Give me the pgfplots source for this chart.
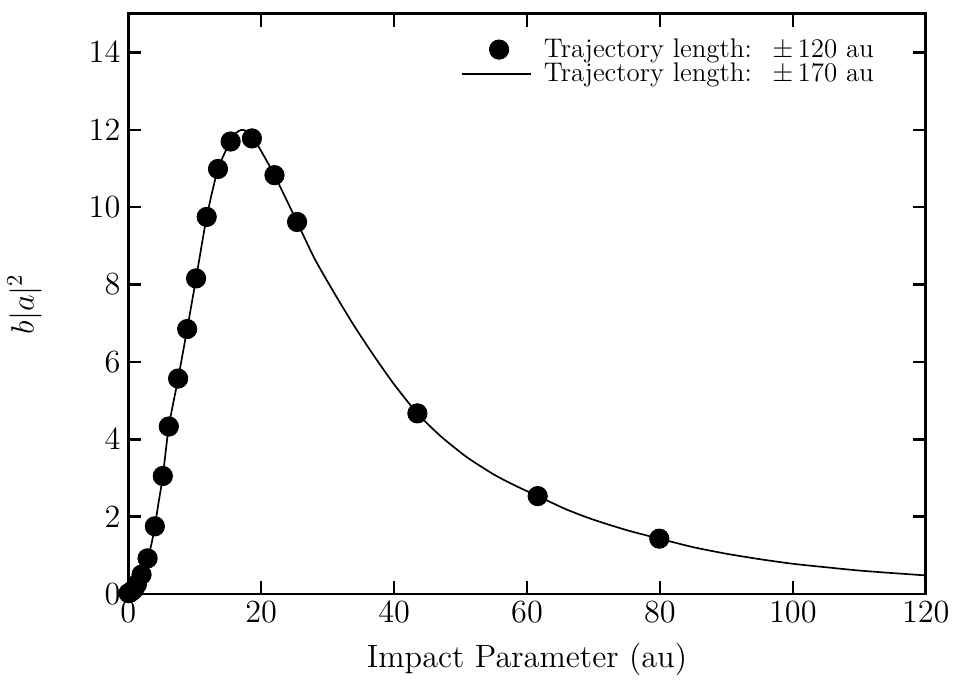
\documentclass[border=0pt]{standalone}
\usepackage{pgfplots}
\pgfplotsset{compat=1.18}
\pgfplotsset{
  dotlegend/.style={legend image code/.code={\draw[##1] plot coordinates {(0.58cm,0cm)};}},
  linelegend/.style={legend image code/.code={\draw[##1] (0cm,0cm) -- (1.08cm,0cm); \path (1.2cm,0cm);}}
}

\begin{document}
\begin{tikzpicture}
\begin{axis}[width=355.7pt, height=258.7pt, scale only axis,
  xmin=0, xmax=120, ymin=0, ymax=15,
  xtick={0,20,...,120}, ytick={0,2,...,14},
  tick align=inside, major tick length=5.8pt,
  axis line style={line width=1.3pt},
  tick style={line width=1.1pt, black},
  tick label style={font=\Large},
  xlabel={Impact Parameter (au)}, ylabel={$b|a|^2$},
  label style={font=\Large},
  xlabel style={at={(axis description cs:0.5,0)}, anchor=base, yshift=-33pt},
  ylabel style={at={(axis description cs:-0.13,0.5)}, anchor=center},
  legend style={at={(0.941,0.966)}, anchor=north east, draw=none,
                fill=none, font=\large, inner sep=0pt, row sep=-3pt},
  legend cell align=left]
\addplot[only marks, mark=*, mark size=4.3pt, black, dotlegend]
  coordinates {(0.05,0.02) (0.3,0.04) (0.6,0.08) (0.9,0.13) (1.3,0.25)
  (2.0,0.5) (2.9,0.92) (4.0,1.75) (5.2,3.05) (6.1,4.33) (7.5,5.57)
  (8.86,6.85) (10.2,8.16) (11.8,9.75) (13.5,10.99) (15.4,11.7)
  (18.6,11.78) (22.0,10.83) (25.4,9.62) (43.5,4.67) (61.6,2.53) (79.9,1.43)};
\addlegendentry{Trajectory length: \ $\pm\,120$ au}
\addplot[black, line width=0.75pt, smooth, tension=0.4, linelegend]
  coordinates {(0,0) (0.5,0.05) (1,0.17) (1.5,0.3) (2,0.5) (2.5,0.7)
  (3,0.97) (3.5,1.3) (4,1.75) (4.5,2.3) (5.2,3.05) (6.1,4.33) (7.5,5.57)
  (8.86,6.85) (10.2,8.16) (11.8,9.75) (13.5,10.99) (15.4,11.72)
  (16.2,11.92) (17,12.0) (17.8,11.97) (18.6,11.82) (19.5,11.6)
  (20.5,11.3) (22,10.83) (23.5,10.3) (25.4,9.62) (28,8.68) (31,7.78)
  (34,6.93) (37,6.15) (40,5.42) (43.5,4.67) (47,4.08) (51,3.53)
  (55,3.09) (58,2.82) (61.6,2.53) (66,2.18) (70,1.92) (75,1.65) (79.9,1.43)
  (85,1.21) (90,1.04) (95,0.9) (100,0.78) (105,0.69) (110,0.605)
  (115,0.54) (120,0.48)};
\addlegendentry{Trajectory length: \ $\pm\,170$ au}
\end{axis}
\path ([yshift=6.2pt]current axis.north west);
\path ([xshift=-56.7pt]current axis.south west);
\end{tikzpicture}
\end{document}
